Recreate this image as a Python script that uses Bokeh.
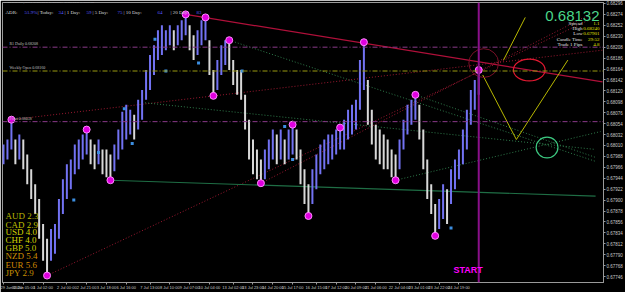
from bokeh.plotting import figure
from bokeh.models import (Range1d, LinearAxis, FixedTicker, Span, Label, LabelSet,
                          ColumnDataSource, PrintfTickFormatter)
from bokeh.embed import file_html
from bokeh.resources import INLINE

# ---------------- data ----------------
high = [0.68012, 0.68022, 0.68062, 0.68022, 0.68032, 0.68022, 0.67992, 0.67962, 0.67932, 0.67902,
        0.67852, 0.67822, 0.67842, 0.67852, 0.67902, 0.67942, 0.67972, 0.67982, 0.68012, 0.68022,
        0.68032, 0.68042, 0.68022, 0.68012, 0.68022, 0.68002, 0.68002, 0.67992, 0.68012, 0.68042,
        0.68078, 0.68092, 0.68082, 0.68072, 0.68102, 0.68122, 0.68162, 0.68192, 0.68212, 0.68242,
        0.68252, 0.68242, 0.68252, 0.68242, 0.68252, 0.68262, 0.68274, 0.68252, 0.68232, 0.68242,
        0.68262, 0.68268, 0.68222, 0.68162, 0.68182, 0.68212, 0.68222, 0.68222, 0.68182, 0.68162,
        0.68162, 0.68112, 0.68062, 0.68022, 0.68002, 0.67982, 0.68002, 0.68022, 0.68042, 0.68032,
        0.68042, 0.68022, 0.68042, 0.68052, 0.68042, 0.68002, 0.67962, 0.67932, 0.67962, 0.67992,
        0.68012, 0.68022, 0.68032, 0.68032, 0.68042, 0.68046, 0.68062, 0.68082, 0.68092, 0.68102,
        0.68182, 0.68218, 0.68142, 0.68082, 0.68052, 0.68042, 0.68032, 0.68022, 0.68002, 0.67992,
        0.68022, 0.68062, 0.68092, 0.68102, 0.68112, 0.68092, 0.68042, 0.67982, 0.67932, 0.67892,
        0.67902, 0.67932, 0.67922, 0.67962, 0.67982, 0.68002, 0.68042, 0.68082, 0.68122, 0.68142,
        0.68162]
low = [0.67972, 0.67982, 0.68002, 0.67972, 0.67982, 0.67962, 0.67932, 0.67902, 0.67872, 0.67822,
       0.67778, 0.67748, 0.67778, 0.67792, 0.67822, 0.67872, 0.67902, 0.67922, 0.67952, 0.67962,
       0.67982, 0.67992, 0.67972, 0.67962, 0.67972, 0.67952, 0.67946, 0.67940, 0.67958, 0.67982,
       0.68002, 0.68022, 0.68032, 0.68022, 0.68042, 0.68062, 0.68102, 0.68122, 0.68152, 0.68182,
       0.68192, 0.68202, 0.68212, 0.68202, 0.68212, 0.68222, 0.68232, 0.68202, 0.68182, 0.68192,
       0.68212, 0.68222, 0.68152, 0.68110, 0.68122, 0.68152, 0.68172, 0.68162, 0.68132, 0.68112,
       0.68102, 0.68042, 0.67982, 0.67952, 0.67942, 0.67934, 0.67942, 0.67962, 0.67982, 0.67972,
       0.67982, 0.67972, 0.67982, 0.67992, 0.67982, 0.67932, 0.67892, 0.67868, 0.67892, 0.67922,
       0.67952, 0.67962, 0.67972, 0.67982, 0.67992, 0.68002, 0.68002, 0.68022, 0.68032, 0.68042,
       0.68082, 0.68122, 0.68052, 0.68012, 0.67982, 0.67972, 0.67962, 0.67962, 0.67946, 0.67940,
       0.67962, 0.68002, 0.68032, 0.68052, 0.68062, 0.68022, 0.67962, 0.67902, 0.67872, 0.67828,
       0.67842, 0.67862, 0.67852, 0.67892, 0.67922, 0.67942, 0.67972, 0.68002, 0.68052, 0.68082,
       0.68112]
bars = list(range(len(high)))

swing_idx = [2, 11, 21, 27, 46, 51, 53, 57, 65, 73, 77, 85, 91, 99, 104, 109, 120]
swing_type = ["H", "L", "H", "L", "H", "H", "L", "H", "L", "H", "L", "H", "H", "L", "H", "L", "H"]

fractal_x = [38.25, 41, 49.25, 30.5, 32.5, 24, 60.25, 71, 17.75, 73, 113]
fractal_y = [0.68224, 0.68160, 0.68176, 0.68084, 0.68014, 0.67996, 0.68160, 0.68048, 0.67900, 0.67982, 0.67844]

level_prices = [0.68208, 0.68160, 0.68058]
level_names = ["R1 Daily", "Weekly Open", "Pivot"]

price_ticks = [0.68296, 0.68274, 0.68252, 0.68230, 0.68208, 0.68186, 0.68164, 0.68142, 0.68120,
               0.68098, 0.68076, 0.68054, 0.68032, 0.68010, 0.67988, 0.67966, 0.67944, 0.67922,
               0.67900, 0.67878, 0.67856, 0.67834, 0.67812, 0.67790, 0.67768, 0.67746]

time_ticks = [0, 5, 10, 16, 21, 26, 31, 37, 42, 47, 52, 58, 63, 68, 73, 79, 84, 89, 94, 100, 105, 110, 115]
time_labels = ["29 Jun 2020", "30 Jun 05:00", "1 Jul 02:00", "2 Jul 00:00", "2 Jul 21:00",
               "3 Jul 18:00", "6 Jul 16:00", "7 Jul 13:00", "8 Jul 10:00", "9 Jul 07:00",
               "10 Jul 04:00", "13 Jul 02:00", "13 Jul 23:00", "14 Jul 20:00", "15 Jul 17:00",
               "16 Jul 15:00", "17 Jul 12:00", "20 Jul 09:00", "21 Jul 06:00", "22 Jul 04:00",
               "23 Jul 01:00", "23 Jul 22:00", "24 Jul 19:00"]
start_bar = 120
start_label = "27 Jul 16:00"

current_price = 0.68132

currencies = ["AUD", "CAD", "USD", "CHF", "GBP", "NZD", "EUR", "JPY"]
strength = [2.3, 2.9, 4.0, 4.0, 5.0, 5.4, 5.6, 2.9]

adr_names = ["ADR:", "| Today:", "| 1 Day:", "| 5 Day:", "| 10 Day:", "| 20 Day:"]
adr_values = ["51.9%", "34", "59", "75", "64", "83"]

info_names = ["Spread", "High", "Low", "Candle Time", "Trade 1 Pips"]
info_values = ["1.1", "0.68240", "0.67901", "29:52", "4.8"]

# trend lines (bar, price) -> (bar, price)
red_solid = dict(x0=[46], y0=[0.68274], x1=[151.25], y1=[0.68138])
red_dotted = dict(x0=[11, 2, 65], y0=[0.67748, 0.68062, 0.67934],
                  x1=[149.5, 151.25, 149.5], y1=[0.68269, 0.68202, 0.68280])
green_solid = dict(x0=[27], y0=[0.67940], x1=[149.5], y1=[0.67908])
green_dotted = dict(x0=[57, 35.75, 99, 104], y0=[0.68222, 0.68096, 0.67940, 0.68112],
                    x1=[149.5, 149.5, 150.75, 149.5], y1=[0.67978, 0.68002, 0.68038, 0.67986])
yellow_lines = dict(x0=[126.25, 121, 129.5], y0=[0.68182, 0.68152, 0.68022],
                    x1=[131.75, 129.5, 142.5], y1=[0.68268, 0.68022, 0.68182])

NARROW = "'Liberation Sans Narrow', 'Liberation Sans', sans-serif"
MONO = "'Liberation Mono', 'DejaVu Sans Mono', monospace"
SANS = "'Liberation Sans', Arial, sans-serif"

# ---------------- figure ----------------
p = figure(width=625, height=292, output_backend="svg", toolbar_location=None,
           x_range=Range1d(-0.25, 151.5), y_range=Range1d(0.67734, 0.68298),
           min_border_left=2, min_border_top=2, min_border_right=13, min_border_bottom=8,
           background_fill_color="black", border_fill_color="black",
           x_axis_location=None, y_axis_location=None)
p.grid.visible = False
p.outline_line_color = "#9a9a9a"

yaxis = LinearAxis(ticker=FixedTicker(ticks=price_ticks), formatter=PrintfTickFormatter(format="%.5f"))
yaxis.axis_line_color = "#9a9a9a"
yaxis.major_tick_line_color = "#9a9a9a"
yaxis.major_tick_in = 0
yaxis.major_tick_out = 2
yaxis.minor_tick_line_color = None
yaxis.major_label_standoff = 1
yaxis.major_label_text_font = NARROW
yaxis.major_label_text_font_size = "4.5px"
yaxis.major_label_text_color = "#c8c8c8"
p.add_layout(yaxis, "right")

xaxis = LinearAxis(ticker=FixedTicker(ticks=time_ticks),
                   major_label_overrides={t: l for t, l in zip(time_ticks, time_labels)})
xaxis.axis_line_color = "#9a9a9a"
xaxis.major_tick_line_color = "#9a9a9a"
xaxis.major_tick_in = 0
xaxis.major_tick_out = 2
xaxis.minor_tick_line_color = None
xaxis.major_label_standoff = 0
xaxis.major_label_text_align = "left"
xaxis.major_label_text_font = NARROW
xaxis.major_label_text_font_size = "4px"
xaxis.major_label_text_color = "#c8c8c8"
p.add_layout(xaxis, "below")

# horizontal levels
level_colors = ["#8a3a8a", "#9a9a10", "#8a3a8a"]
for lp, lc in zip(level_prices, level_colors):
    p.add_layout(Span(location=lp, dimension="width", line_color=lc, line_width=1, line_dash="5 2 1 2"))
p.add_layout(LabelSet(source=ColumnDataSource(dict(x=[1.5] * 3, y=level_prices,
                                                   t=[f"{n} {v:.5f}" for n, v in zip(level_names, level_prices)])),
                      x="x", y="y", text="t", text_color="#c0c0c0", text_font_size="4px",
                      text_font=SANS, text_baseline="bottom", y_offset=1))

# START vertical line
p.add_layout(Span(location=start_bar, dimension="height", line_color="#8a108a", line_width=2))

# trend lines
p.segment(**red_dotted, line_color="#9a1830", line_width=1, line_dash="1 2")
p.segment(**green_dotted, line_color="#2e7a4a", line_width=1, line_dash="1 2")
p.segment(**green_solid, line_color="#1f6e45", line_width=1.2)
p.segment(**red_solid, line_color="#b0103a", line_width=1.2)
p.segment(**yellow_lines, line_color="#b8b800", line_width=1)

# price bars
mid = [(h + l) / 2 for h, l in zip(high, low)]
colors = ["#7272f2" if i == 0 or mid[i] >= mid[i - 1] else "#d8d8d8" for i in bars]
p.segment(x0=bars, y0=low, x1=bars, y1=high, line_color=colors, line_width=2)

# fractal markers
p.scatter(x=fractal_x, y=fractal_y, size=3, marker="square", fill_color="#3c8ee0", line_color=None)

# swing points
sy = [high[i] if t == "H" else low[i] for i, t in zip(swing_idx, swing_type)]
p.scatter(x=swing_idx, y=sy, size=7, fill_color="#e000e0", line_color="#ff88ff", line_width=1)

# ellipses
p.ellipse(x=[132.75], y=[0.68162], width=[8], height=[0.00044], fill_alpha=0, line_color="#e01830", line_width=1.2)
p.ellipse(x=[121.25], y=[0.68176], width=[7.5], height=[0.00058], fill_alpha=0, line_color="#7a1028", line_width=1)
p.ellipse(x=[137.25], y=[0.68006], width=[5.5], height=[0.00042], fill_alpha=0, line_color="#3cc880", line_width=1.2)

# START text and bottom highlight label
p.add_layout(Label(x=113.6, y=0.67760, text="START", text_color="#ff00ff", text_font_size="9px",
                   text_font_style="bold", text_font=SANS, text_baseline="middle"))
p.add_layout(Label(x=start_bar - 3, y=0.67734, y_offset=-7, text=start_label, text_color="#300030",
                   text_font_size="4px", text_font=SANS, background_fill_color="#ff00ff", text_baseline="middle"))
# current price box on the axis
p.add_layout(Label(x=151.5, x_offset=1, y=current_price, text=f"{current_price:.5f}", text_color="black",
                   text_font_size="4.5px", background_fill_color="white", text_baseline="middle",
                   text_font=NARROW))

# ---- screen texts (x from frame left, y from frame bottom) ----
def sx(x):
    return x - 2
def sy_(y):
    return 284 - y

# header
p.add_layout(Label(x=sx(3), y=sy_(3), x_units="screen", y_units="screen",
                   text="\u25be NZDUSD,M15  0.68126 0.68137 0.68124 0.68132",
                   text_color="#d0d0d0", text_font_size="4px", text_font=SANS, text_baseline="middle"))

# ADR row
adr_x = [5, 37, 64, 92, 123, 170]
adr_vx = [24, 58, 86, 117, 157, 196]
p.add_layout(LabelSet(source=ColumnDataSource(dict(x=[sx(v) for v in adr_x], y=[sy_(14)] * 6, t=adr_names)),
                      x="x", y="y", text="t", x_units="screen", y_units="screen",
                      text_color="#d8d8d8", text_font_size="5px", text_font=SANS, text_baseline="middle"))
p.add_layout(LabelSet(source=ColumnDataSource(dict(x=[sx(v) for v in adr_vx], y=[sy_(14)] * 6, t=adr_values)),
                      x="x", y="y", text="t", x_units="screen", y_units="screen",
                      text_color="#5a5aff", text_font_size="5px", text_font=SANS, text_baseline="middle"))

# right info panel (x anchored to the frame's right edge in data space)
p.add_layout(Label(x=151.5, x_offset=-4, y=sy_(17), y_units="screen", text=f"{current_price:.5f}",
                   text_color="#4ad88a", text_font_size="15px", text_align="right", text_baseline="middle",
                   text_font=NARROW))
info_y = [25, 30, 35, 41, 46]
p.add_layout(LabelSet(source=ColumnDataSource(dict(x=[151.5] * 5, y=[sy_(v) for v in info_y], t=info_names)),
                      x="x", y="y", text="t", y_units="screen", x_offset=-21,
                      text_color="#e0e0e0", text_font_size="5px", text_font=SANS,
                      text_align="right", text_baseline="middle"))
p.add_layout(LabelSet(source=ColumnDataSource(dict(x=[151.5] * 5, y=[sy_(v) for v in info_y], t=info_values)),
                      x="x", y="y", text="t", y_units="screen", x_offset=-4,
                      text_color="#e0e000", text_font_size="5px", text_font=SANS,
                      text_align="right", text_baseline="middle"))

# currency strength table
cur_colors = ["#b8b800", "#c0c000", "#d4d400", "#d4d400", "#c8c800", "#d09000", "#d08800", "#c89000"]
cur_y = [217, 226, 233, 241, 249, 257, 266, 274]
p.add_layout(LabelSet(source=ColumnDataSource(dict(x=[sx(5)] * 8, y=[sy_(v) for v in cur_y],
                                                   t=[f"{c}  {s:.1f}" for c, s in zip(currencies, strength)],
                                                   c=cur_colors)),
                      x="x", y="y", text="t", x_units="screen", y_units="screen", text_color="c",
                      text_font=MONO, text_font_size="9px", text_baseline="middle"))

open("out.html", "w").write(file_html(p, INLINE))
